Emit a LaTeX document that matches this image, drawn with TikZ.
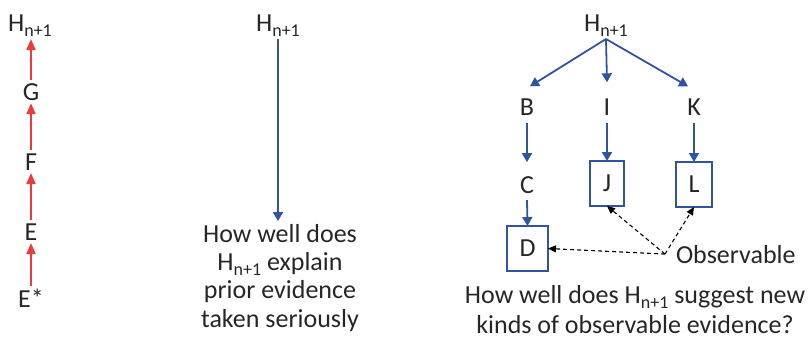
\documentclass[tikz,border=0pt]{standalone}
\usepackage{fontspec}
\setmainfont{Carlito}
\usetikzlibrary{arrows.meta,calc}
\definecolor{arblue}{HTML}{3153A4}
\definecolor{arred}{HTML}{EE3A3A}
\definecolor{txt}{HTML}{262626}
\newcommand\nsub{\raisebox{-5pt}{\fontsize{18}{18}\selectfont n+1}}
\begin{document}
\begin{tikzpicture}[x=1pt,y=-1pt,
  lbl/.style={anchor=base,inner sep=3pt,outer sep=0pt,text=txt,font=\fontsize{26}{28.3}\selectfont},
  boxed/.style={lbl,anchor=center,draw=arblue,line width=1.6pt,minimum height=45pt,inner sep=0pt},
  redarr/.style={draw=arred,line width=1.6pt,-{Triangle[length=11pt,width=9pt]}},
  bluearr/.style={draw=arblue,line width=1.8pt,-{Triangle[length=9pt,width=10pt]}},
  dasharr/.style={draw=black,line width=1.1pt,dash pattern=on 4pt off 3pt,-{Triangle[length=8pt,width=7pt]}}]
\useasboundingbox (0,0) rectangle (812,340);
% left column
\node[lbl] (h1) at (30,31) {H\nsub};
\node[lbl] (g) at (31,100) {G};
\node[lbl] (f) at (31,170) {F};
\node[lbl] (e) at (31,240) {E};
\node[lbl] (es) at (31,307) {E*};
\draw[redarr] (es.north -| e) -- (e.south);
\draw[redarr] (e.north) -- (f.south);
\draw[redarr] (f.north) -- (g.south);
\draw[redarr] (g.north) -- (h1.south -| g);
% middle column
\node[lbl] (hm) at (278,31) {H\nsub};
\node[lbl,align=center] (qm) at (280,327) {How well does\\H\nsub{} explain\\prior evidence\\taken seriously};
\draw[bluearr] (hm.south) -- (hm.south |- qm.north);
% right column
\node[lbl] (hr) at (606,31) {H\nsub};
\node[lbl] (b) at (527,115) {B};
\node[lbl] (i) at (607,115) {I};
\node[lbl] (k) at (694,115) {K};
\node[lbl] (c) at (527,193) {C};
\node[boxed,minimum width=34pt] (j) at (607,183.5) {J};
\node[boxed,minimum width=36pt] (l) at (694,184.5) {L};
\node[boxed,minimum width=41pt] (d) at (527.5,248.5) {D};
\node[lbl,anchor=base west] (obs) at (673,263) {Observable};
\coordinate (o) at ($(obs.west)+(-8pt,0pt)$);
\draw[bluearr] (hr.south) -- ([shift={(3pt,9pt)}]b.north);
\draw[bluearr] (hr.south) -- ([yshift=13pt]i.north);
\draw[bluearr] (hr.south) -- ([shift={(-6pt,9pt)}]k.north);
\draw[bluearr] ([yshift=-5pt]b.south) -- ([yshift=11pt]c.north);
\draw[bluearr] ([yshift=-5pt]i.south) -- (j.north);
\draw[bluearr] ([yshift=-5pt]k.south) -- (l.north);
\draw[bluearr] ([yshift=-4pt]c.south) -- (d.north);
\draw[dasharr] (o) -- (d.east);
\draw[dasharr] (o) -- (j.south);
\draw[dasharr] (o) -- (l.south);
\node[lbl,align=center,font=\fontsize{26}{30}\selectfont] (qr) at (635,333) {How well does H\nsub{} suggest new\\kinds of observable evidence?};
\end{tikzpicture}
\end{document}
